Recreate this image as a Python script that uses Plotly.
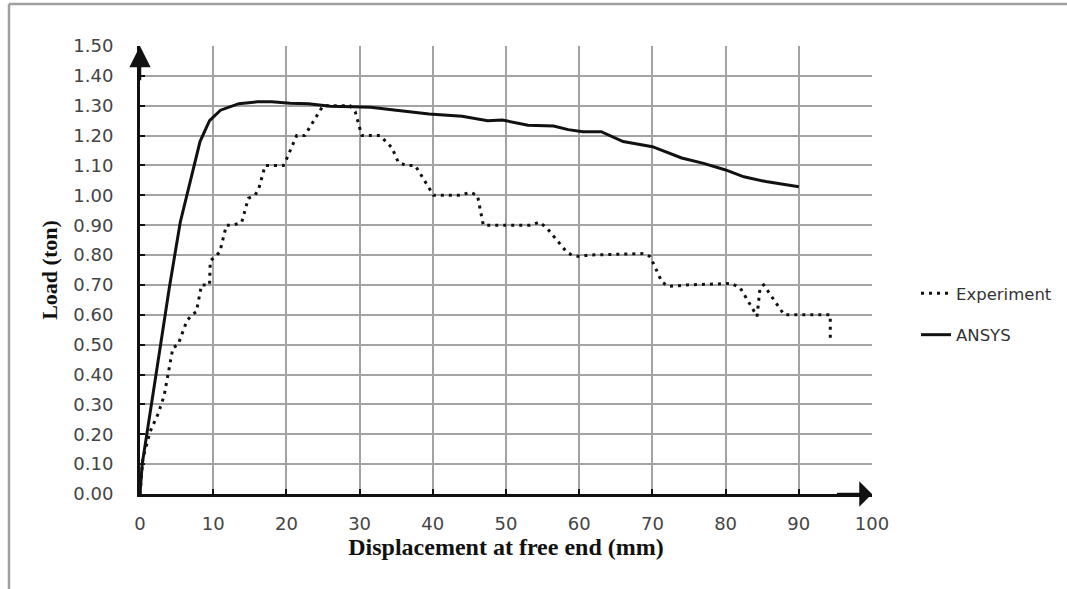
import plotly.graph_objects as go

# ---------------- data ----------------
exp_x = [0, 0.4, 1.4, 2.5, 3.3, 4.1, 4.5, 5.2, 6.4, 7.1, 7.7, 8.4, 9.5, 9.6, 10.9,
         11.8, 12.7, 13.9, 14.8, 15.7, 16.2, 17.1, 18.2, 19.6, 20.0, 21.4, 22.5,
         25.0, 26.4, 28.7, 29.4, 30.3, 31.6, 32.8, 34.4, 35.3, 36.4, 37.6, 40.1,
         43.7, 45.1, 46.1, 46.9, 48.3, 53.3, 54.6, 55.6, 58.3, 59.0, 60.1, 61.2,
         68.8, 69.7, 71.3, 72.2, 74.7, 80.8, 82.0, 84.3, 84.7, 85.2, 88.0, 94.3, 94.3]
exp_y = [0, 0.12, 0.21, 0.27, 0.33, 0.43, 0.49, 0.50, 0.58, 0.60, 0.61, 0.70, 0.70, 0.78, 0.81,
         0.90, 0.90, 0.91, 0.99, 1.00, 1.02, 1.10, 1.10, 1.10, 1.12, 1.20, 1.20,
         1.30, 1.30, 1.30, 1.28, 1.20, 1.20, 1.20, 1.16, 1.11, 1.10, 1.10, 1.00,
         1.00, 1.01, 1.00, 0.90, 0.90, 0.90, 0.91, 0.89, 0.81, 0.80, 0.795, 0.80,
         0.805, 0.795, 0.71, 0.695, 0.70, 0.705, 0.69, 0.595, 0.69, 0.70, 0.60, 0.60, 0.51]

ansys_x = [0, 0.3, 2, 4, 5.5, 7, 8.2, 9.5, 11, 13.5, 16, 18, 20.5, 23, 26, 29, 31.5,
           35, 39.5, 44, 47.5, 49.5, 53, 56.5, 58.5, 60.5, 63, 66, 70, 74, 77, 80,
           82.5, 85.5, 90]
ansys_y = [0, 0.10, 0.37, 0.69, 0.91, 1.06, 1.18, 1.25, 1.285, 1.307, 1.313, 1.313,
           1.308, 1.307, 1.298, 1.297, 1.295, 1.285, 1.272, 1.265, 1.25, 1.252, 1.235,
           1.232, 1.22, 1.213, 1.213, 1.18, 1.163, 1.125, 1.107, 1.085, 1.062, 1.046, 1.029]

x_ticks = list(range(0, 101, 10))
y_ticks = [i / 10 for i in range(16)]
y_tick_text = [f"{v:.2f}" for v in y_ticks]

# ---------------- layout geometry ----------------
W, H = 1067, 589
L, R, T, B = 140, 195, 46, 95
PW, PH = W - L - R, H - T - B


def px_to_paper_x(px):
    return (px - L) / PW


def px_to_paper_y(py):
    return (H - B - py) / PH


fig = go.Figure()
fig.add_trace(go.Scatter(
    x=exp_x, y=exp_y, mode="lines", name="Experiment",
    line=dict(color="#111111", width=3, dash="3px,5px"),
    legendgroup="a"))
fig.add_trace(go.Scatter(
    x=ansys_x, y=ansys_y, mode="lines", name="ANSYS",
    line=dict(color="#111111", width=3),
    legendgroup="b"))

tickfont = dict(family="DejaVu Sans", size=18, color="#444444")

fig.update_layout(
    width=W, height=H,
    margin=dict(l=L, r=R, t=T, b=B, pad=0, autoexpand=False),
    paper_bgcolor="white", plot_bgcolor="white",
    showlegend=True,
    legend=dict(
        x=px_to_paper_x(916), y=px_to_paper_y(276),
        xanchor="left", yanchor="top",
        font=dict(family="DejaVu Sans", size=16.5, color="#333333"),
        bgcolor="rgba(0,0,0,0)", borderwidth=0,
        traceorder="grouped", tracegroupgap=17,
    ),
    xaxis=dict(
        range=[0, 100], tickvals=x_ticks, tickfont=tickfont,
        showgrid=True, gridcolor="#a3a3a3", gridwidth=1.5, zeroline=False,
        showline=True, linecolor="#111111", linewidth=3,
        ticks="inside", ticklen=5, tickwidth=2, tickcolor="#111111",
        ticklabelstandoff=11, automargin=False,
        title=dict(text="<b>Displacement at free end (mm)</b>",
                   font=dict(family="Liberation Serif", size=24, color="#111111"), standoff=6),
    ),
    yaxis=dict(
        range=[0, 1.5], tickvals=y_ticks, ticktext=y_tick_text, tickfont=tickfont,
        showgrid=True, gridcolor="#a3a3a3", gridwidth=1.5, zeroline=False,
        showline=True, linecolor="#111111", linewidth=3,
        ticks="inside", ticklen=5, tickwidth=2, tickcolor="#111111",
        ticklabelstandoff=20, automargin=False,
        title=dict(text="<b>Load (ton)</b>",
                   font=dict(family="Liberation Serif", size=22, color="#111111"), standoff=10),
    ),
    annotations=[
        dict(x=0, y=1.5, ax=0, ay=1.38, xref="x", yref="y", axref="x", ayref="y",
             text="", showarrow=True, arrowhead=2, arrowsize=1.7, arrowwidth=2.5,
             arrowcolor="#111111"),
        dict(x=100, y=0, ax=95, ay=0, xref="x", yref="y", axref="x", ayref="y",
             text="", showarrow=True, arrowhead=1, arrowsize=1.7, arrowwidth=2.5,
             arrowcolor="#111111"),
    ],
    shapes=[
        dict(type="line", xref="paper", yref="paper",
             x0=px_to_paper_x(9), x1=px_to_paper_x(W + 5),
             y0=px_to_paper_y(4), y1=px_to_paper_y(4),
             line=dict(color="#a0a0a0", width=2.5)),
        dict(type="line", xref="paper", yref="paper",
             x0=px_to_paper_x(9), x1=px_to_paper_x(9),
             y0=px_to_paper_y(4), y1=px_to_paper_y(H + 5),
             line=dict(color="#a0a0a0", width=2.5)),
    ],
)

fig.write_html("out.html")
